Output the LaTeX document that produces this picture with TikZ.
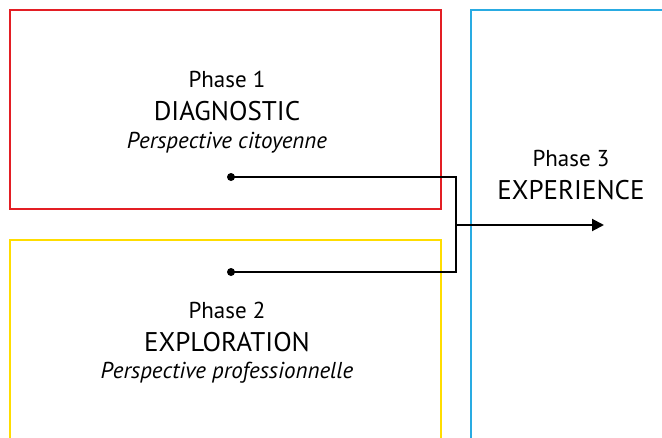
\documentclass[tikz,border=0pt]{standalone}
\usepackage{fontspec}
\setmainfont{PT Sans}
\usetikzlibrary{positioning, calc, arrows.meta}
\definecolor{diagred}{HTML}{E31E24}
\definecolor{explyellow}{HTML}{FFDD00}
\definecolor{expblue}{HTML}{29ABE2}
\tikzset{
  phasebox/.style={line width=2pt},
  phasenum/.style={inner sep=0pt, font=\fontsize{23}{27}\selectfont},
  phasename/.style={inner sep=0pt, font=\fontsize{27}{32}\selectfont},
  phaseview/.style={inner sep=0pt, font=\fontsize{23}{27}\selectfont\itshape},
  dot/.style={circle, fill=black, inner sep=0pt, minimum size=8pt},
  link/.style={line width=2pt}
}
\begin{document}
\begin{tikzpicture}[x=1pt,y=-1pt]
			\useasboundingbox (0,0) rectangle (662,437);
			\clip (0,0) rectangle (662,437);
			% the three phases
			\draw[phasebox, draw=diagred] (10,10) rectangle (441,209);
			\draw[phasebox, draw=explyellow] (10,240) rectangle (441,470);
			\draw[phasebox, draw=expblue] (471,10) rectangle (700,470);
			\node[phasenum] (num1) at (227,79) {Phase 1};
			\node[phasename] (name1) at (227,111) {DIAGNOSTIC};
			\node[phaseview] (view1) at (227,143) {Perspective citoyenne};
			\node[phasenum] (num2) at (227,310) {Phase 2};
			\node[phasename] (name2) at (227,342) {EXPLORATION};
			\node[phaseview] (view2) at (227,373) {Perspective professionnelle};
			\node[phasenum] (num3) at (571,158) {Phase 3};
			\node[phasename] (name3) at (571,190) {EXPERIENCE};
			% links
			\node[dot] (start1) at (231,177) {};
			\node[dot] (start2) at (231,272) {};
			\coordinate (join) at (456,225);
			\coordinate (goal) at (604,225);
			\draw[link] (start1.center) -| (join);
			\draw[link] (start2.center) -| (join);
			\draw[link, -{Triangle[length=12pt, width=12pt]}] (join) -- (goal);
\end{tikzpicture}
\end{document}
